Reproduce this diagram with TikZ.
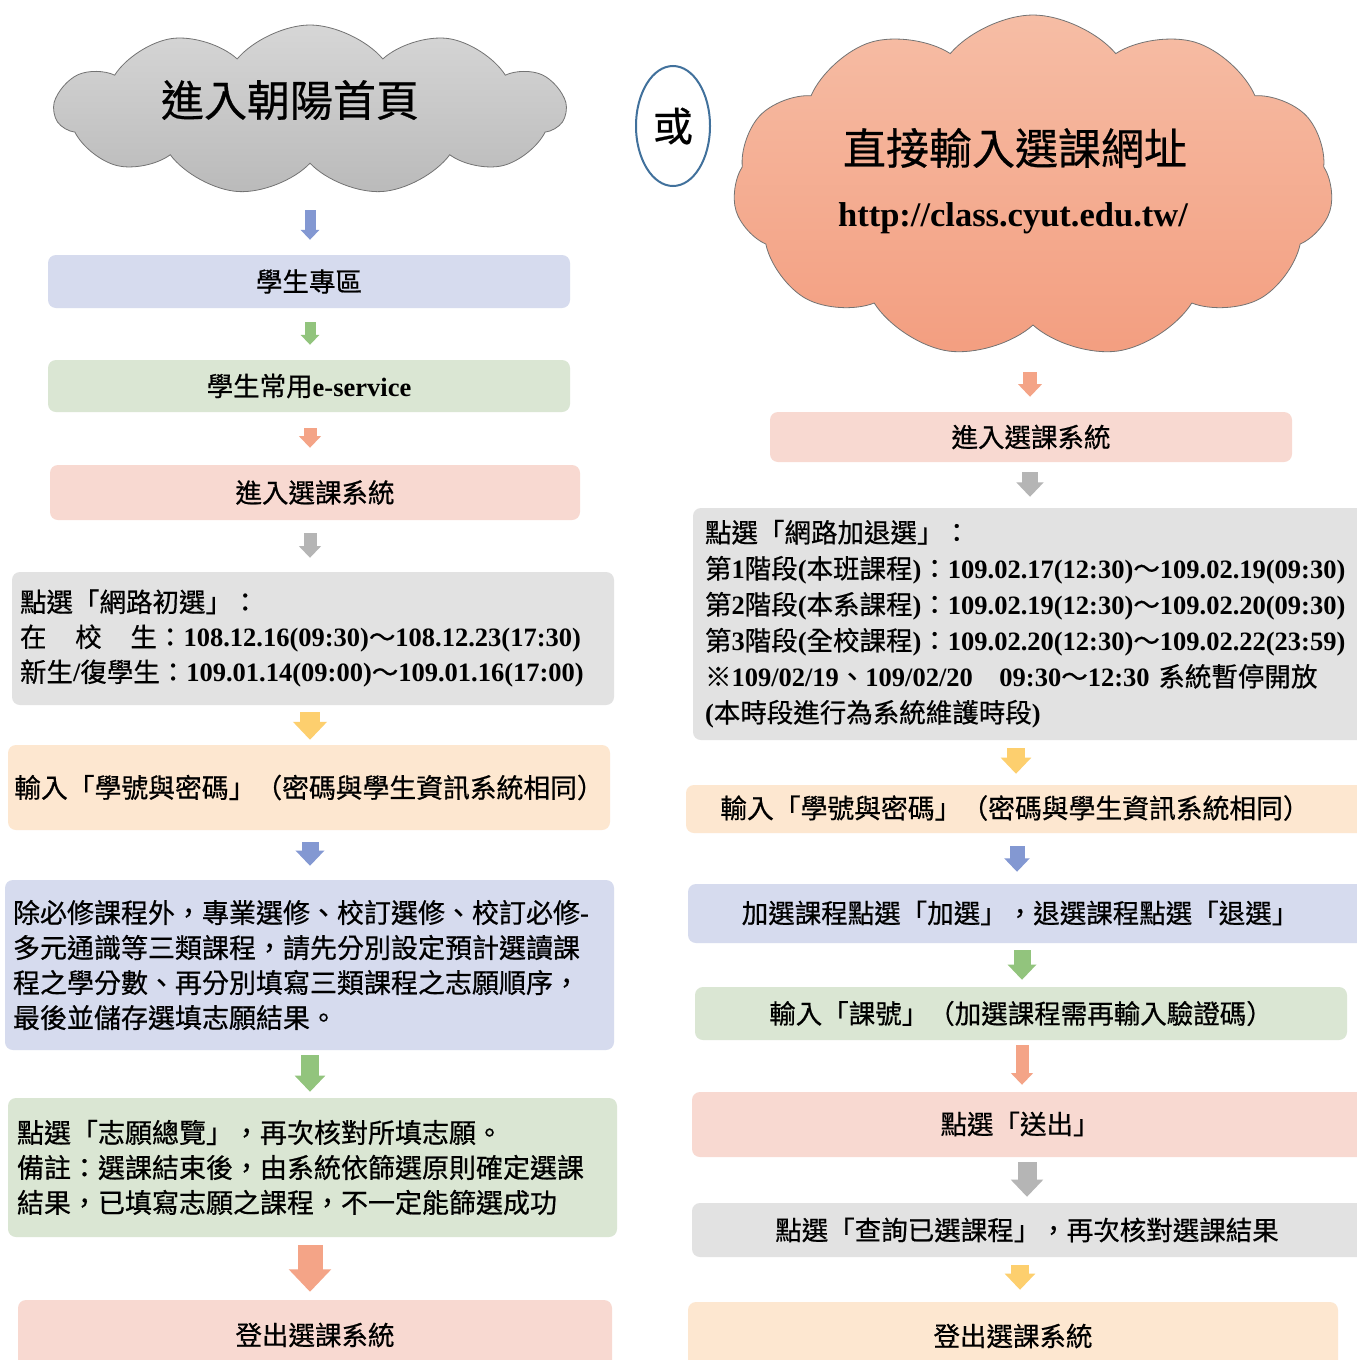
\documentclass[tikz,border=0pt]{standalone}
\usepackage{fontspec}
\setmainfont{Noto Sans CJK TC}[FakeBold=0.6]
\newfontfamily\latfont{Liberation Serif}
\usetikzlibrary{shapes.symbols,shapes.geometric,arrows.meta}
\newcommand\lt[1]{{\latfont\bfseries #1}}
\definecolor{cLav}{HTML}{D6DBEE}
\definecolor{cGrn}{HTML}{DAE6D3}
\definecolor{cPnk}{HTML}{F8D9D1}
\definecolor{cGry}{HTML}{E2E2E2}
\definecolor{cPch}{HTML}{FDE7D0}
\definecolor{aBlu}{HTML}{8398D2}
\definecolor{aGrn}{HTML}{92C47D}
\definecolor{aSal}{HTML}{F4A487}
\definecolor{aGry}{HTML}{B5B5B5}
\definecolor{aYel}{HTML}{FDCF6E}
\definecolor{cOr}{HTML}{41719C}
\definecolor{rTop}{HTML}{F6BDA5}
\definecolor{rBot}{HTML}{F39E80}
\tikzset{
  box/.style n args={3}{fill=#1, minimum width=#2, minimum height=#3, rounded corners=8pt, inner sep=0pt, font=\fontsize{26.5}{35}\selectfont},
  body/.style={font=\fontsize{26.5}{35}\selectfont, inner sep=0pt},
  barrow/.style 2 args={draw=#1, line width=#2, -{Triangle[width=0pt 1.65, length=0pt 0.9]}},
  cloudbox/.style={cloud, cloud puffs=11, cloud puff arc=100, cloud ignores aspect, inner sep=0pt, line width=0.8pt, draw=black!55}
}
\begin{document}
\begin{tikzpicture}[x=1pt,y=-1pt]
\useasboundingbox (0,0) rectangle (1357,1360);
\clip (0,0) rectangle (1357,1360);
\fill[white] (0,0) rectangle (1357,1360);

% ---------- left column ----------
\node[cloudbox, minimum width=510pt, minimum height=170pt, top color=black!16, bottom color=black!27] (L0) at (310,110) {};
\node[font=\fontsize{43}{43}\selectfont, inner sep=0pt] (L0t) at (290,100) {進入朝陽首頁};

\node[box={cLav}{522pt}{53pt}] (L1) at (309,281.5) {學生專區};
\node[box={cGrn}{522pt}{52pt}] (L2) at (309,386) {學生常用\lt{e-service}};
\node[box={cPnk}{530pt}{55pt}] (L3) at (315,492.5) {進入選課系統};
\node[box={cGry}{602pt}{133pt}, inner xsep=8pt, text width=586pt, align=left] (L4) at (313,638.5)
 {點選「網路初選」：\\
  \makebox[137pt][l]{在\hfill 校\hfill 生}：\lt{108.12.16(09:30)}～\lt{108.12.23(17:30)}\\
  新生\lt{/}復學生：\lt{109.01.14(09:00)}～\lt{109.01.16(17:00)}};
\node[box={cPch}{602pt}{85pt}, font=\fontsize{26.8}{35}\selectfont] (L5) at (309,787.5) {輸入「學號與密碼」（密碼與學生資訊系統相同）};
\node[box={cLav}{609pt}{170pt}, inner xsep=8pt, text width=593pt, align=left, font=\fontsize{27}{35}\selectfont] (L6) at (309.5,965)
 {除必修課程外，專業選修、校訂選修、校訂必修\lt{-}\\
  多元通識等三類課程，請先分別設定預計選讀課\\
  程之學分數、再分別填寫三類課程之志願順序，\\
  最後並儲存選填志願結果。};
\node[box={cGrn}{609pt}{139pt}, inner xsep=9pt, text width=591pt, align=left, font=\fontsize{27}{35}\selectfont] (L7) at (312.5,1167.5)
 {點選「志願總覽」，再次核對所填志願。\\
  備註：選課結束後，由系統依篩選原則確定選課\\
  結果，已填寫志願之課程，不一定能篩選成功};
\node[box={cPnk}{594pt}{70pt}] (L8) at (315,1335) {登出選課系統};

\coordinate (xl) at (310,0);
\draw[barrow={aBlu}{11pt}, shorten <=100pt, shorten >=15pt] (L0.center -| xl) -- (L1.north -| xl);
\draw[barrow={aGrn}{11pt}, shorten <=14pt, shorten >=15pt] (L1.south -| xl) -- (L2.north -| xl);
\draw[barrow={aSal}{13pt}, shorten <=16pt, shorten >=17pt] (L2.south -| xl) -- (L3.north -| xl);
\draw[barrow={aGry}{13pt}, shorten <=13pt, shorten >=14pt] (L3.south -| xl) -- (L4.north -| xl);
\draw[barrow={aYel}{20pt}, shorten <=7pt, shorten >=5pt] (L4.south -| xl) -- (L5.north -| xl);
\draw[barrow={aBlu}{17pt}, shorten <=12pt, shorten >=14pt] (L5.south -| xl) -- (L6.north -| xl);
\draw[barrow={aGrn}{18pt}, shorten <=5pt, shorten >=6pt] (L6.south -| xl) -- (L7.north -| xl);
\draw[barrow={aSal}{25pt}, shorten <=8pt, shorten >=8pt] (L7.south -| xl) -- (L8.north -| xl);

% ---------- "or" ----------
\node[ellipse, draw=cOr, line width=2pt, fill=white, minimum width=74pt, minimum height=120pt, inner sep=0pt, font=\fontsize{40}{40}\selectfont] (OR) at (673,126) {或};

% ---------- right column ----------
\node[cloudbox, minimum width=600pt, minimum height=343pt, top color=rTop, bottom color=rBot] (R0) at (1033,186.5) {};
\node[font=\fontsize{43}{43}\selectfont, inner sep=0pt] (R0t) at (1015,148) {直接輸入選課網址};
\node[inner sep=0pt, font=\latfont\bfseries\fontsize{34.5}{34.5}\selectfont] (R0u) at (1013,218) {http://class.cyut.edu.tw/};

\node[box={cPnk}{522pt}{50pt}] (R1) at (1031,437) {進入選課系統};
\node[box={cGry}{682pt}{232pt}, inner xsep=12pt, text width=658pt, align=left, font=\fontsize{26.5}{36}\selectfont] (R2) at (1034,624)
 {點選「網路加退選」：\\
  第\lt{1}階段\lt{(}本班課程\lt{)}：\lt{109.02.17(12:30)}～\lt{109.02.19(09:30)}\\
  第\lt{2}階段\lt{(}本系課程\lt{)}：\lt{109.02.19(12:30)}～\lt{109.02.20(09:30)}\\
  第\lt{3}階段\lt{(}全校課程\lt{)}：\lt{109.02.20(12:30)}～\lt{109.02.22(23:59)}\\
  ※\lt{109/02/19}、\lt{109/02/20\ \ \ 09:30}～\lt{12:30} 系統暫停開放\\
  \lt{(}本時段進行為系統維護時段\lt{)}};
\node[box={cPch}{689pt}{48pt}] (R3) at (1030.5,809) {};
\node[body, font=\fontsize{26.8}{35}\selectfont] (R3t) at (1015,808) {輸入「學號與密碼」（密碼與學生資訊系統相同）};
\node[box={cLav}{687pt}{59pt}] (R4) at (1031.5,913.5) {};
\node[body] (R4t) at (1020,913) {加選課程點選「加選」，退選課程點選「退選」};
\node[box={cGrn}{652pt}{53pt}] (R5) at (1021,1013.5) {輸入「課號」（加選課程需再輸入驗證碼）};
\node[box={cPnk}{683pt}{65pt}] (R6) at (1033.5,1124.5) {};
\node[body] (R6t) at (1020,1124) {點選「送出」};
\node[box={cGry}{683pt}{54pt}] (R7) at (1033.5,1230) {};
\node[body] (R7t) at (1027,1230) {點選「查詢已選課程」，再次核對選課結果};
\node[box={cPch}{650pt}{68pt}] (R8) at (1013,1336) {登出選課系統};

\coordinate (xr1) at (1030,0);
\coordinate (xr3) at (1016,0);
\coordinate (xr4) at (1017,0);
\coordinate (xr5) at (1022,0);
\coordinate (xr7) at (1027,0);
\coordinate (xr8) at (1020,0);
\draw[barrow={aSal}{14pt}, shorten <=185.5pt, shorten >=15pt] (R0.center -| xr1) -- (R1.north -| xr1);
\draw[barrow={aGry}{16pt}, shorten <=10pt, shorten >=11pt] (R1.south -| xr1) -- (R2.north -| xr1);
\draw[barrow={aYel}{18pt}, shorten <=8pt, shorten >=11pt] (R2.south -| xr3) -- (R3.north -| xr3);
\draw[barrow={aBlu}{15pt}, shorten <=13pt, shorten >=12pt] (R3.south -| xr4) -- (R4.north -| xr4);
\draw[barrow={aGrn}{17pt}, shorten <=7pt, shorten >=7pt] (R4.south -| xr5) -- (R5.north -| xr5);
\draw[barrow={aSal}{13pt}, shorten <=5pt, shorten >=7pt] (R5.south -| xr5) -- (R6.north -| xr5);
\draw[barrow={aGry}{19pt}, shorten <=5pt, shorten >=6pt] (R6.south -| xr7) -- (R7.north -| xr7);
\draw[barrow={aYel}{18pt}, shorten <=8pt, shorten >=12pt] (R7.south -| xr8) -- (R8.north -| xr8);
\end{tikzpicture}
\end{document}
